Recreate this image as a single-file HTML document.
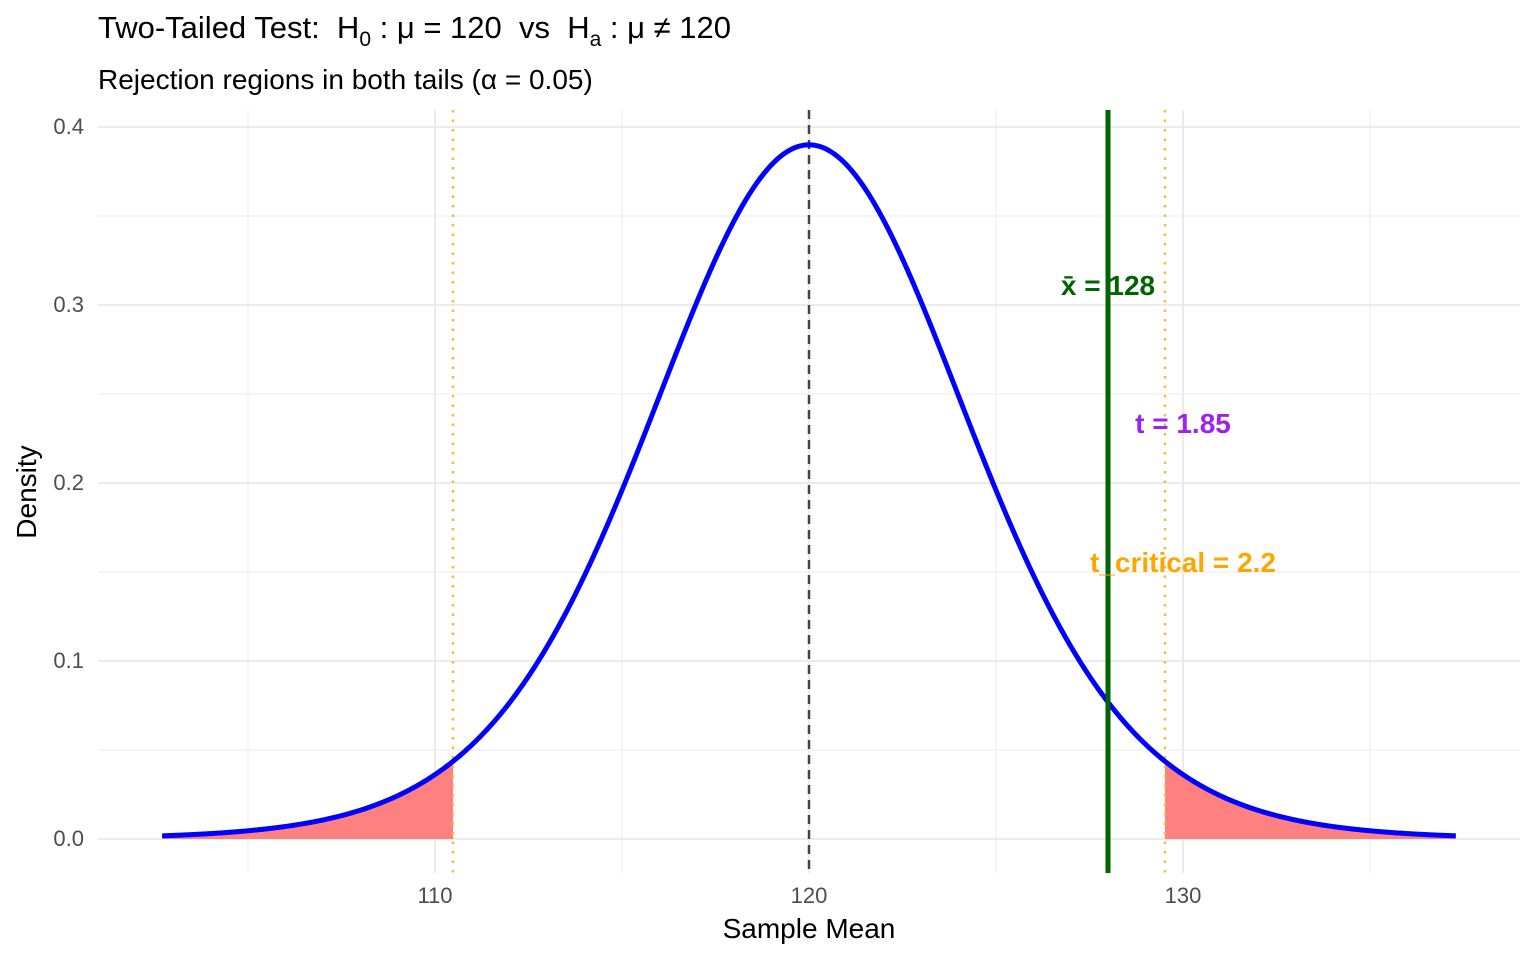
<!DOCTYPE html>
<html><head><meta charset="utf-8"><style>
html,body{margin:0;padding:0;background:#fff;}
svg{display:block;font-family:"Liberation Sans",sans-serif;}
</style></head><body>
<svg id="s" width="1536" height="960" xmlns="http://www.w3.org/2000/svg">
<rect width="1536" height="960" fill="#fff"/>
<g stroke="#ebebeb" stroke-width="1">
<line x1="98" x2="1520" y1="750" y2="750"/><line x1="98" x2="1520" y1="572" y2="572"/>
<line x1="98" x2="1520" y1="394" y2="394"/><line x1="98" x2="1520" y1="216" y2="216"/>
<line x1="248" x2="248" y1="110" y2="873"/><line x1="622" x2="622" y1="110" y2="873"/>
<line x1="996" x2="996" y1="110" y2="873"/><line x1="1370" x2="1370" y1="110" y2="873"/>
</g>
<g stroke="#ebebeb" stroke-width="2">
<line x1="98" x2="1520" y1="839" y2="839"/><line x1="98" x2="1520" y1="661" y2="661"/>
<line x1="98" x2="1520" y1="483" y2="483"/><line x1="98" x2="1520" y1="305" y2="305"/>
<line x1="98" x2="1520" y1="127" y2="127"/>
<line x1="435" x2="435" y1="110" y2="873"/><line x1="809" x2="809" y1="110" y2="873"/>
<line x1="1183" x2="1183" y1="110" y2="873"/>
</g>
<path id="fl" fill="#ff8080"/><path id="fr" fill="#ff8080"/>
<line x1="809" x2="809" y1="110" y2="873" stroke="#444" stroke-width="2.5" stroke-dasharray="9,6"/>
<line x1="453" x2="453" y1="110" y2="873" stroke="#ffb733" stroke-width="2.5" stroke-dasharray="2.5,7"/>
<line x1="1165" x2="1165" y1="110" y2="873" stroke="#ffb733" stroke-width="2.5" stroke-dasharray="2.5,7"/>
<path id="cv" fill="none" stroke="#0000ff" stroke-width="5"/>
<line x1="1108" x2="1108" y1="110" y2="873" stroke="#006400" stroke-width="5"/>
<g font-weight="bold" font-size="28" text-anchor="middle">
<text x="1108" y="295" fill="#006400">x̄ = 128</text>
<text x="1183" y="433" fill="#a020f0">t = 1.85</text>
<text x="1183" y="572" fill="#ffa500">t_critical = 2.2</text>
</g>
<g font-size="22" fill="#4d4d4d" text-anchor="end">
<text x="84" y="846">0.0</text><text x="84" y="668">0.1</text><text x="84" y="490">0.2</text>
<text x="84" y="312">0.3</text><text x="84" y="134">0.4</text>
</g>
<g font-size="22" fill="#4d4d4d" text-anchor="middle">
<text x="435" y="903">110</text><text x="809" y="903">120</text><text x="1183" y="903">130</text>
</g>
<text x="809" y="938" font-size="28" text-anchor="middle" fill="#000">Sample Mean</text>
<text transform="translate(36,492) rotate(-90)" font-size="28" text-anchor="middle" fill="#000">Density</text>
<text x="98" y="38" font-size="31" fill="#000">Two-Tailed Test:&#160; H<tspan font-size="21" dy="8">0</tspan><tspan dy="-8">&#160;: μ = 120&#160; vs&#160; H</tspan><tspan font-size="21" dy="8">a</tspan><tspan dy="-8">&#160;: μ ≠ 120</tspan></text>
<text x="98" y="89" font-size="28" fill="#000">Rejection regions in both tails (α = 0.05)</text>
</svg>
<script>
var c=0.39000,se=4.324,tc=2.201;
function d(t){return c*Math.pow(1+t*t/11,-6);}
function X(t){return 809+t*se*37.4;}function Y(v){return 839-v*1780;}
var p="";for(var i=0;i<=800;i++){var t=-4+i*0.01;p+=(i?"L":"M")+X(t).toFixed(2)+","+Y(d(t)).toFixed(2);}
document.getElementById("cv").setAttribute("d",p);
var l="M"+X(-4)+",839";for(var t=-4;t<=-tc;t+=0.01)l+="L"+X(t).toFixed(2)+","+Y(d(t)).toFixed(2);
l+="L"+X(-tc)+","+Y(d(tc))+"L"+X(-tc)+",839Z";
var r="M"+X(tc)+",839L"+X(tc)+","+Y(d(tc));for(var t=tc;t<=4.0001;t+=0.01)r+="L"+X(t).toFixed(2)+","+Y(d(t)).toFixed(2);
r+="L"+X(4)+",839Z";
document.getElementById("fl").setAttribute("d",l);document.getElementById("fr").setAttribute("d",r);
</script>
</body></html>
